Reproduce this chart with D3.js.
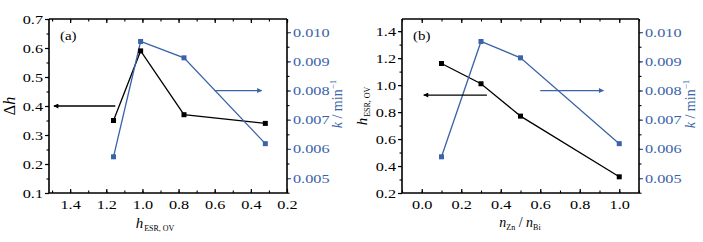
<!DOCTYPE html>
<html>
<head>
<meta charset="utf-8">
<script src="https://cdn.jsdelivr.net/npm/d3@7"></script>
<style>
body { margin: 0; background: #fff; }
svg { display: block; }
</style>
</head>
<body>
<div id="chart"></div>
<script>
// data
const hEsr = [1.16, 1.01, 0.77, 0.32];
const deltaH = [0.35, 0.59, 0.37, 0.34];
const kRate = [0.00573, 0.00968, 0.00912, 0.00618];
const znBi = [0.1, 0.3, 0.5, 1.0];

const ticksA = [1.4, 1.2, 1.0, 0.8, 0.6, 0.4, 0.2];
const ticksB = [0.0, 0.2, 0.4, 0.6, 0.8, 1.0];
const ticksDh = [0.1, 0.2, 0.3, 0.4, 0.5, 0.6, 0.7];
const ticksH = [0.2, 0.4, 0.6, 0.8, 1.0, 1.2, 1.4];
const ticksK = [0.005, 0.006, 0.007, 0.008, 0.009, 0.010];

const blue = "#3b63a8";
const font = "'Liberation Serif', 'Times New Roman', serif";
const sx = 1.3; // the figure's text is stretched horizontally

const svg = d3.select("#chart").append("svg")
    .attr("width", 703)
    .attr("height", 242)
    .style("font-family", font);

const defs = svg.append("defs");
[["arrBlack", "#000"], ["arrBlue", blue]].forEach(function(m) {
    defs.append("marker")
        .attr("id", m[0])
        .attr("viewBox", "0 0 10 10")
        .attr("refX", 9).attr("refY", 5)
        .attr("markerWidth", 7).attr("markerHeight", 5)
        .attr("markerUnits", "userSpaceOnUse")
        .attr("orient", "auto")
        .append("path")
        .attr("d", "M0,0L10,5L0,10Z")
        .attr("fill", m[1]);
});

function styleAxis(g, color, side) {
    g.select(".domain").remove();
    g.selectAll("line").attr("stroke", color).attr("stroke-width", 1.2);
    g.selectAll("text")
        .attr("fill", color)
        .attr("font-size", "12.5px")
        .attr("font-family", font)
        .attr("transform", `scale(${sx},1)`)
        .attr("x", function() {
            if (side === "left") return -6 / sx;
            if (side === "right") return 6 / sx;
            return 0;
        });
}

function minorTicks(domain, step) {
    const lo = Math.min(domain[0], domain[1]), hi = Math.max(domain[0], domain[1]);
    return d3.range(Math.ceil(lo / step - 1e-6), Math.floor(hi / step + 1e-6) + 1).map(i => i * step);
}

function panel(opt) {
    const g = svg.append("g");
    const x = d3.scaleLinear().domain(opt.xDomain).range([opt.x0, opt.x1]);
    const yL = d3.scaleLinear().domain(opt.yDomain).range([opt.y1, opt.y0]);
    const yR = d3.scaleLinear().domain([0.00449, 0.01045]).range([opt.y1, opt.y0]);

    // minor ticks
    const minor = g.append("g");
    minor.append("g").attr("transform", `translate(0,${opt.y1})`)
        .call(d3.axisTop(x).tickValues(minorTicks(opt.xDomain, opt.xMinor)).tickSize(2.5).tickFormat(""));
    minor.append("g").attr("transform", `translate(0,${opt.y0})`)
        .call(d3.axisBottom(x).tickValues(minorTicks(opt.xDomain, opt.xMinor)).tickSize(2.5).tickFormat(""));
    minor.append("g").attr("transform", `translate(${opt.x0},0)`)
        .call(d3.axisLeft(yL).tickValues(minorTicks(opt.yDomain, opt.yMinor)).tickSize(2.5).tickFormat(""));
    minor.append("g").attr("transform", `translate(${opt.x1},0)`)
        .call(d3.axisRight(yR).tickValues(minorTicks([0.00449, 0.01045], 0.0005)).tickSize(2.5).tickFormat(""));
    minor.selectAll(".domain").remove();
    minor.selectAll("line").attr("stroke", "#000").attr("stroke-width", 1.1);

    // major ticks and labels
    const bottom = g.append("g").attr("transform", `translate(0,${opt.y1})`)
        .call(d3.axisBottom(x).tickValues(opt.xTicks).tickSize(-4).tickFormat(d3.format(".1f")));
    styleAxis(bottom, "#000", "bottom");
    bottom.selectAll("text").attr("y", 7).attr("dy", "0.71em");

    const top = g.append("g").attr("transform", `translate(0,${opt.y0})`)
        .call(d3.axisTop(x).tickValues(opt.xTicks).tickSize(-4).tickFormat(""));
    styleAxis(top, "#000", "top");

    const left = g.append("g").attr("transform", `translate(${opt.x0},0)`)
        .call(d3.axisLeft(yL).tickValues(opt.yTicks).tickSize(4).tickFormat(d3.format(".1f")));
    styleAxis(left, "#000", "left");

    const right = g.append("g").attr("transform", `translate(${opt.x1},0)`)
        .call(d3.axisRight(yR).tickValues(ticksK).tickSize(4).tickFormat(d3.format(".3f")));
    styleAxis(right, blue, "right");

    // frame
    g.append("path")
        .attr("d", `M${opt.x0},${opt.y0}H${opt.x1}`)
        .attr("stroke", "#000").attr("stroke-width", 1.3);
    g.append("path")
        .attr("d", `M${opt.x0},${opt.y0}V${opt.y1}H${opt.x1}`)
        .attr("fill", "none").attr("stroke", "#000").attr("stroke-width", 1.6);
    g.append("path")
        .attr("d", `M${opt.x1},${opt.y0}V${opt.y1}`)
        .attr("stroke", "#000").attr("stroke-width", 1.6);

    // series
    const black = opt.xs.map((v, i) => [v, opt.ys[i]]);
    const kser = opt.xs.map((v, i) => [v, kRate[i]]);

    g.append("path")
        .datum(black)
        .attr("fill", "none").attr("stroke", "#000").attr("stroke-width", 1.3)
        .attr("d", d3.line().x(d => x(d[0])).y(d => yL(d[1])));
    g.append("path")
        .datum(kser)
        .attr("fill", "none").attr("stroke", blue).attr("stroke-width", 1.3)
        .attr("d", d3.line().x(d => x(d[0])).y(d => yR(d[1])));

    g.selectAll(".mb").data(black).enter().append("rect")
        .attr("x", d => x(d[0]) - 2.5).attr("y", d => yL(d[1]) - 2.5)
        .attr("width", 5).attr("height", 5).attr("fill", "#000");
    g.selectAll(".mk").data(kser).enter().append("rect")
        .attr("x", d => x(d[0]) - 2.5).attr("y", d => yR(d[1]) - 2.5)
        .attr("width", 5).attr("height", 5).attr("fill", blue);

    // arrows pointing to each axis
    g.append("line")
        .attr("x1", x(opt.arrowL[0])).attr("x2", x(opt.arrowL[1]))
        .attr("y1", yL(opt.arrowL[2])).attr("y2", yL(opt.arrowL[2]))
        .attr("stroke", "#000").attr("stroke-width", 1.3)
        .attr("marker-end", "url(#arrBlack)");
    g.append("line")
        .attr("x1", x(opt.arrowR[0])).attr("x2", x(opt.arrowR[1]))
        .attr("y1", yR(opt.arrowR[2])).attr("y2", yR(opt.arrowR[2]))
        .attr("stroke", blue).attr("stroke-width", 1.3)
        .attr("marker-end", "url(#arrBlue)");

    // panel label
    g.append("text")
        .attr("x", opt.x0 + 11).attr("y", opt.y0 + 21)
        .attr("font-size", "13px")
        .attr("transform", `translate(${opt.x0 + 11},0) scale(1.15,1) translate(${-(opt.x0 + 11)},0)`)
        .text(opt.label);

    return g;
}

panel({
    x0: 49, x1: 287, y0: 19, y1: 193,
    xDomain: [1.517, 0.2], xTicks: ticksA, xMinor: 0.1,
    yDomain: [0.1, 0.7], yTicks: ticksDh, yMinor: 0.05,
    xs: hEsr, ys: deltaH,
    arrowL: [1.15, 1.49, 0.4],
    arrowR: [0.6, 0.34, 0.008],
    label: "(a)"
});

panel({
    x0: 402, x1: 639, y0: 19, y1: 193,
    xDomain: [-0.1, 1.1], xTicks: ticksB, xMinor: 0.1,
    yDomain: [0.2, 1.49], yTicks: ticksH, yMinor: 0.1,
    xs: znBi, ys: hEsr,
    arrowL: [0.33, 0.01, 0.926],
    arrowR: [0.6, 0.92, 0.008],
    label: "(b)"
});

// axis titles
function hTitle(sel) {
    sel.append("tspan").attr("font-style", "italic").attr("font-size", "15px").text("h");
    sel.append("tspan").attr("font-size", "8px").attr("dy", 3).attr("dx", 1).text("ESR, OV");
}
function kTitle(sel) {
    sel.append("tspan").attr("font-style", "italic").text("k");
    sel.append("tspan").text(" / min");
    sel.append("tspan").attr("font-size", "9px").attr("dy", -6).text("\u22121");
}

// panel (a)
hTitle(svg.append("text").attr("x", 155).attr("y", 228).attr("text-anchor", "middle"));

const dh = svg.append("text")
    .attr("transform", "translate(15,106) rotate(-90)")
    .attr("text-anchor", "middle").attr("font-size", "16px");
dh.append("tspan").text("\u0394");
dh.append("tspan").attr("font-style", "italic").text("h");

kTitle(svg.append("text")
    .attr("transform", "translate(342,104) rotate(-90)")
    .attr("text-anchor", "middle").attr("font-size", "14px").attr("fill", blue));

// panel (b)
const nz = svg.append("text").attr("x", 520).attr("y", 227).attr("text-anchor", "middle").attr("font-size", "14px");
nz.append("tspan").attr("font-style", "italic").text("n");
nz.append("tspan").attr("font-size", "8px").attr("dy", 3).text("Zn");
nz.append("tspan").attr("dy", -3).text(" / ");
nz.append("tspan").attr("font-style", "italic").text("n");
nz.append("tspan").attr("font-size", "8px").attr("dy", 3).text("Bi");

hTitle(svg.append("text")
    .attr("transform", "translate(367,106) rotate(-90)")
    .attr("text-anchor", "middle"));

kTitle(svg.append("text")
    .attr("transform", "translate(695,104) rotate(-90)")
    .attr("text-anchor", "middle").attr("font-size", "14px").attr("fill", blue));
</script>
</body>
</html>
